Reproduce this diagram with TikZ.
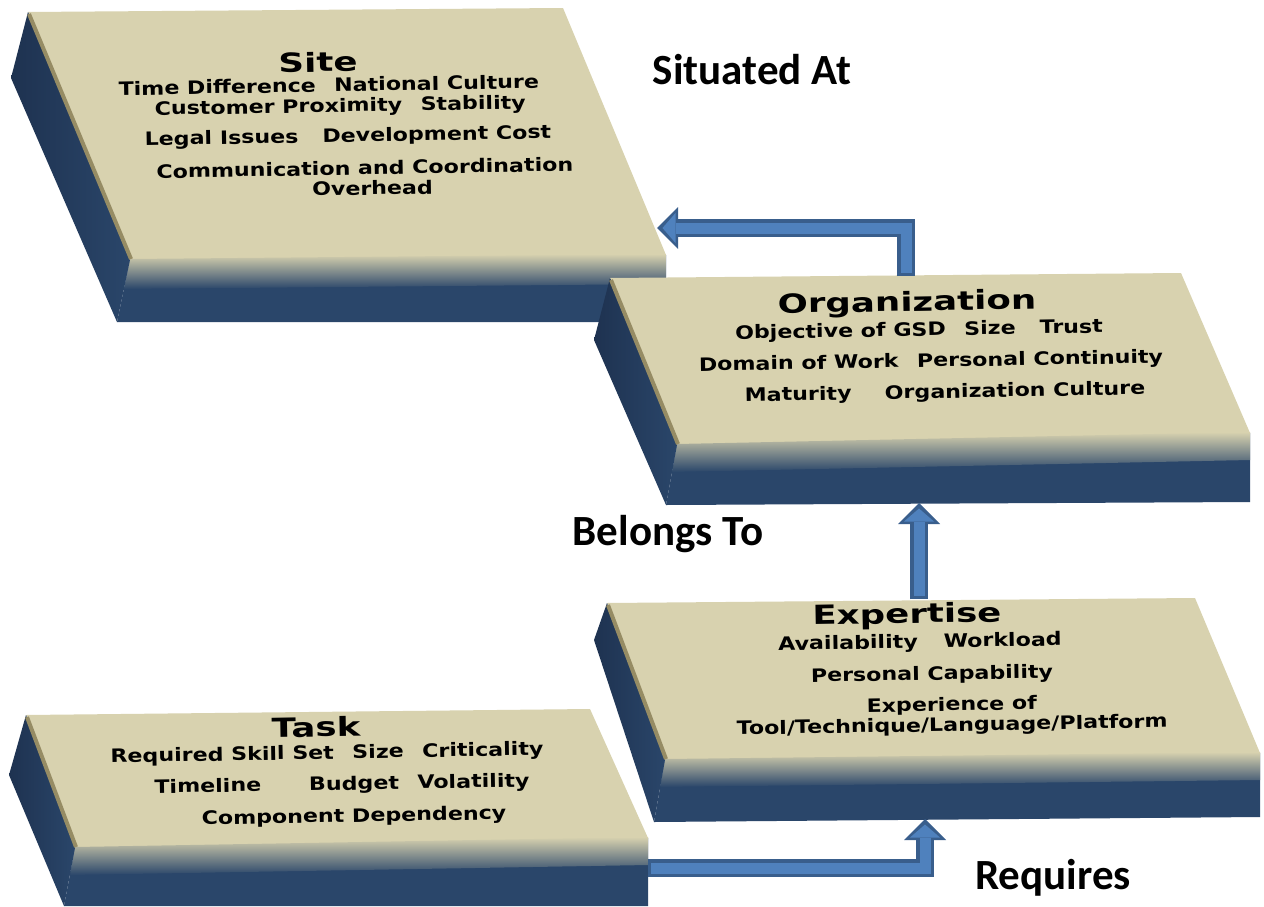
\documentclass[tikz,border=0pt]{standalone}
\usepackage{fontspec}
\usepackage{tikz}
\usetikzlibrary{arrows.meta, calc}
\newfontfamily\itemfont[FakeStretch=1.2]{DejaVu Sans}
\newfontfamily\titlefont[FakeStretch=1.35]{DejaVu Sans}
\newfontfamily\labelfont{Carlito}
\definecolor{slabbeige}{RGB}{216,210,175}
\definecolor{bevelbrown}{RGB}{150,140,100}
\definecolor{slabblue}{RGB}{42,70,106}
\definecolor{sidedark}{RGB}{30,50,80}
\definecolor{arrowfill}{RGB}{79,129,189}
\definecolor{arrowedge}{RGB}{57,94,140}

\tikzset{
  slabtop/.style={fill=slabbeige},
  slabfront/.style={fill=slabblue},
  slabband/.style={top color=slabbeige, bottom color=slabblue},
  slabside/.style={left color=sidedark, right color=slabblue},
  slabbevel/.style={draw=bevelbrown, line width=0.08cm},
  titletext/.style={font=\titlefont\bfseries\fontsize{15}{18}\selectfont, rotate=1, inner sep=0pt},
  itemtext/.style={font=\itemfont\bfseries\fontsize{10.5}{11}\selectfont, rotate=1, inner sep=0pt, align=center},
  relabel/.style={font=\labelfont\bfseries\fontsize{24.5}{29}\selectfont, inner sep=0pt},
  arrowout/.style={draw=arrowedge, line width=0.36cm, line join=miter,
    -{Triangle[length=0.42cm, width=0.84cm, line width=0pt]}},
  arrowin/.style={draw=arrowfill, line width=0.22cm, line join=miter,
    shorten >=0.11cm, shorten <=0.06cm,
    -{Triangle[length=0.26cm, width=0.6cm, line width=0pt]}}
}

\begin{document}
\begin{tikzpicture}[x=0.02cm, y=-0.02cm]
    \path[fill=white, use as bounding box] (0,0) rectangle (1264,906);

    % Site slab
    \fill[slabtop] (28,12) -- (563,8) -- (666,255) -- (130,260) -- cycle;
    \fill[slabfront] (130,260) -- (666,255) -- (666,322) -- (117,322) -- cycle;
    \shade[slabband] (130,259) -- (666,254) -- (666,284) -- (124,289) -- cycle;
    \shade[slabside] (28,12) -- (11,78) -- (117,322) -- (130,260) -- cycle;
    \draw[slabbevel] (29,14) -- (131,259);
    \node[titletext] (sitetitle) at (318,62) {Site};
    \node[itemtext] (site1) at (329,97) {Time Difference\quad National Culture\\[0.6pt]
      \hspace{1.2em}Customer Proximity\quad Stability};
    \node[itemtext] (site2) at (348,137) {Legal Issues\hspace{1.3em}Development Cost};
    \node[itemtext] (site3) at (365,178) {Communication and Coordination\\[0.6pt]
      \hspace{0.8em}Overhead};

    % Organization slab
    \fill[slabtop] (610,278) -- (1181,273) -- (1250,433) -- (677,445) -- cycle;
    \fill[slabfront] (677,445) -- (1250,433) -- (1250,502) -- (666,505) -- cycle;
    \shade[slabband] (677,444) -- (1250,432) -- (1250,460) -- (672,472) -- cycle;
    \shade[slabside] (610,278) -- (594,340) -- (666,505) -- (677,445) -- cycle;
    \draw[slabbevel] (611,280) -- (678,444);
    \node[titletext] (orgtitle) at (907,304) {Organization};
    \node[itemtext] (org1) at (919,331) {Objective of GSD\quad Size\hspace{1.3em}Trust};
    \node[itemtext] (org2) at (931,362) {Domain of Work\quad Personal Continuity};
    \node[itemtext] (org3) at (945,393) {Maturity\hspace{1.8em}Organization Culture};

    % Expertise slab
    \fill[slabtop] (607,603) -- (1195,598) -- (1260,753) -- (665,760) -- cycle;
    \fill[slabfront] (665,760) -- (1260,753) -- (1260,817) -- (654,822) -- cycle;
    \shade[slabband] (665,759) -- (1260,752) -- (1260,780) -- (660,787) -- cycle;
    \shade[slabside] (607,603) -- (594,640) -- (654,822) -- (665,760) -- cycle;
    \draw[slabbevel] (608,605) -- (666,759);
    \node[titletext] (exptitle) at (907,616) {Expertise};
    \node[itemtext] (exp1) at (920,643) {Availability\hspace{1.4em}Workload};
    \node[itemtext] (exp2) at (932,675) {Personal Capability};
    \node[itemtext] (exp3) at (952,716) {Experience of\\[0.6pt]
      Tool/Technique/Language/Platform};

    % Task slab
    \fill[slabtop] (26,715) -- (590,709) -- (648,838) -- (75,848) -- cycle;
    \fill[slabfront] (75,848) -- (648,838) -- (648,906) -- (64,906) -- cycle;
    \shade[slabband] (75,847) -- (648,837) -- (648,865) -- (70,875) -- cycle;
    \shade[slabside] (26,715) -- (9,775) -- (64,906) -- (75,848) -- cycle;
    \draw[slabbevel] (27,717) -- (76,847);
    \node[titletext] (tasktitle) at (316,727) {Task};
    \node[itemtext] (task1) at (327,754) {Required Skill Set\quad Size\quad Criticality};
    \node[itemtext] (task2) at (342,785) {Timeline\hspace{2.6em}Budget\quad Volatility};
    \node[itemtext] (task3) at (354,817) {Component Dependency};

    % arrow ends
    \coordinate (orgtop) at (906,276);
    \coordinate (siteedge) at (657,228);
    \coordinate (exptop) at (919,599);
    \coordinate (orgbottom) at (919,503);
    \coordinate (taskright) at (648,868);
    \coordinate (expbottom) at (925,819);

    % Situated At
    \draw[arrowout] (orgtop) |- (siteedge);
    \draw[arrowin] (orgtop) |- (siteedge);
    % Belongs To
    \draw[arrowout] (exptop) -- (orgbottom);
    \draw[arrowin] (exptop) -- (orgbottom);
    % Requires
    \draw[arrowout] (taskright) -| (expbottom);
    \draw[arrowin] (taskright) -| (expbottom);

    % relation labels
    \node[relabel] (situated) at (752,70) {Situated At};
    \node[relabel] (belongs) at (668,534) {Belongs To};
    \node[relabel] (requires) at (1053,878) {Requires};
\end{tikzpicture}
\end{document}
